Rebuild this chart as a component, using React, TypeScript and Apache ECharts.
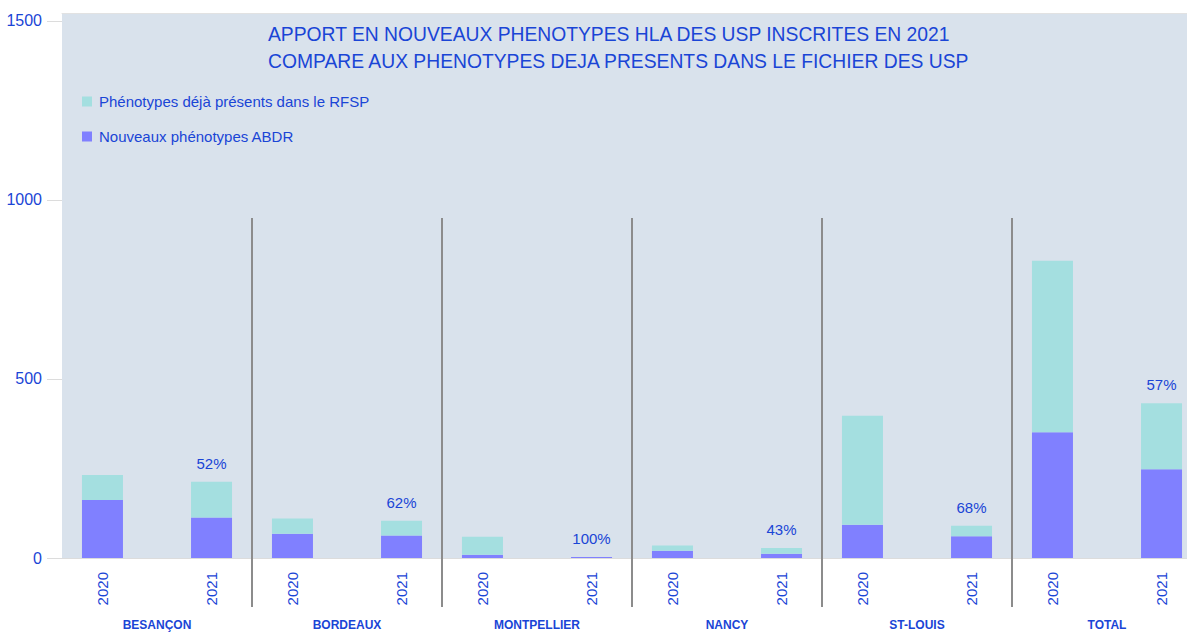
import React, { useEffect, useRef } from "react";
import * as echarts from "echarts";

const cities = ["BESANÇON", "BORDEAUX", "MONTPELLIER", "NANCY", "ST-LOUIS", "TOTAL"];
const years = ["2020", "2021"];
const new2020 = [162, 68, 9, 20, 93, 351];
const existing2020 = [70, 42, 50, 15, 304, 479];
const new2021 = [113, 63, 3, 12, 61, 248];
const existing2021 = [100, 41, 0, 16, 29, 184];
const pct2021 = ["52%", "62%", "100%", "43%", "68%", "57%"];
const yTicks = [0, 500, 1000, 1500];
const nameExisting = "Phénotypes déjà présents dans le RFSP";
const nameNew = "Nouveaux phénotypes ABDR";
const titleLines = [
  "APPORT EN NOUVEAUX PHENOTYPES HLA DES USP INSCRITES EN 2021",
  "COMPARE AUX PHENOTYPES DEJA PRESENTS DANS LE FICHIER DES USP",
];

const BLUE = "#1a45d6";
const FONT = 'Arial, "Liberation Sans", sans-serif';
const C_NEW = "#8080ff";
const C_EXIST = "#a4dfe0";

export default function App() {
  const ref = useRef<HTMLDivElement>(null);
  useEffect(() => {
    if (!ref.current) return;
    const chart = echarts.init(ref.current, undefined, { renderer: "svg" });
    const yearLabel = (y: string) => ({
      show: true,
      position: "bottom" as const,
      distance: 14,
      rotate: 90,
      align: "right" as const,
      verticalAlign: "middle" as const,
      formatter: () => y,
      color: BLUE,
      fontSize: 15,
      fontFamily: FONT,
    });
    const common = { type: "bar" as const, barWidth: 41, barGap: "166%" };
    chart.setOption({
      animation: false,
      textStyle: { fontFamily: FONT },
      title: {
        text: titleLines.join("\n"),
        left: 268,
        top: 21,
        padding: 0,
        textStyle: { color: BLUE, fontSize: 19.3, fontWeight: "normal", lineHeight: 27, fontFamily: FONT },
      },
      legend: {
        data: [nameExisting, nameNew],
        orient: "vertical",
        left: 82,
        top: 94,
        padding: 0,
        itemWidth: 10,
        itemHeight: 10,
        itemGap: 20,
        icon: "rect",
        textStyle: { color: BLUE, fontSize: 15, fontFamily: FONT, padding: [0, 0, 0, 2] },
      },
      grid: {
        left: 62,
        top: 13,
        width: 1140,
        bottom: 74,
        show: true,
        backgroundColor: "#d9e2ec",
        borderWidth: 0,
        containLabel: false,
        outerBoundsMode: "none",
      },
      xAxis: [
        {
          type: "category",
          data: cities,
          axisLine: { show: true, lineStyle: { color: "#dcdcdc", width: 1 } },
          axisTick: { show: false },
          axisLabel: { color: BLUE, fontSize: 12, fontWeight: "bold", margin: 61, fontFamily: FONT },
        },
        {
          type: "category",
          data: cities,
          position: "top",
          axisLine: { show: true, lineStyle: { color: "#e2e2e2", width: 1 } },
          axisTick: { show: false },
          axisLabel: { show: false },
        },
      ],
      yAxis: {
        type: "value",
        min: 0,
        max: 1522,
        axisLine: { show: false },
        splitLine: { show: false },
        axisTick: { show: true, length: 15, customValues: yTicks, lineStyle: { color: "#dcdcdc" } },
        axisLabel: {
          color: BLUE,
          fontSize: 16,
          margin: 20,
          customValues: yTicks,
          fontFamily: FONT,
          formatter: (v: number) => String(v),
        },
      },
      series: [
        { ...common, name: nameNew, stack: years[0], data: new2020, itemStyle: { color: C_NEW }, label: yearLabel(years[0]) },
        { ...common, name: nameExisting, stack: years[0], data: existing2020, itemStyle: { color: C_EXIST } },
        { ...common, name: nameNew, stack: years[1], data: new2021, itemStyle: { color: C_NEW }, label: yearLabel(years[1]) },
        {
          ...common,
          name: nameExisting,
          stack: years[1],
          data: existing2021,
          itemStyle: { color: C_EXIST },
          label: {
            show: true,
            position: "top",
            distance: 11,
            color: BLUE,
            fontSize: 15,
            fontFamily: FONT,
            formatter: (p: any) => pct2021[p.dataIndex],
          },
        },
      ],
    });
    const xs: number[] = [];
    for (let i = 1; i < cities.length; i++) {
      const a = chart.convertToPixel({ xAxisIndex: 0 }, i - 1) as number;
      const b = chart.convertToPixel({ xAxisIndex: 0 }, i) as number;
      xs.push((a + b) / 2);
    }
    chart.setOption({
      graphic: xs.map((x) => ({
        type: "line",
        shape: { x1: x, y1: 218, x2: x, y2: 607 },
        style: { stroke: "#8c8c8c", lineWidth: 2 },
        z: 10,
      })),
    });
    return () => chart.dispose();
  }, []);
  return (
    <div
      ref={ref}
      style={{ position: "absolute", left: 0, top: 0, width: 1187, height: 632, background: "#fff" }}
    />
  );
}
